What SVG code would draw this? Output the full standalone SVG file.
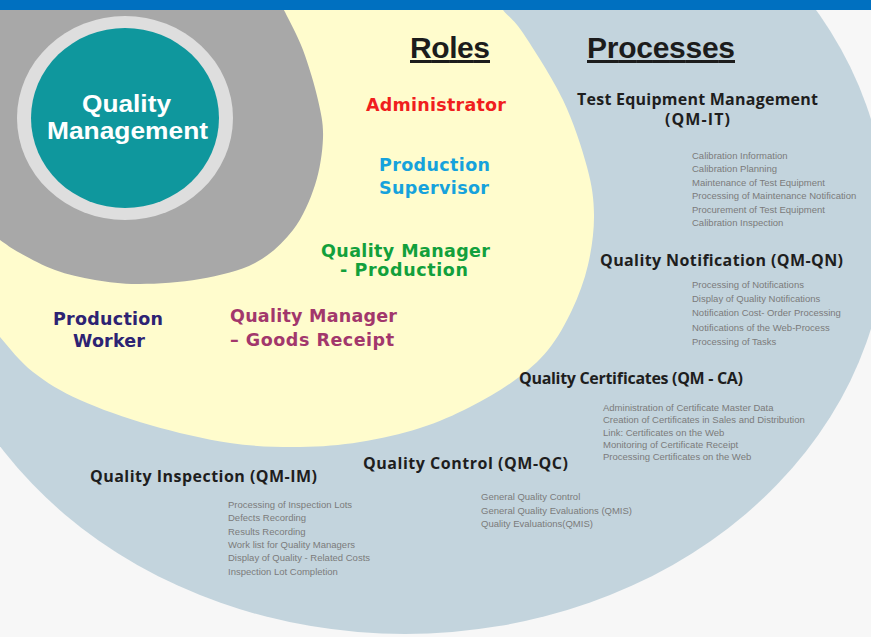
<svg xmlns="http://www.w3.org/2000/svg" width="871" height="637" viewBox="0 0 871 637">
<style>
.hdr{font-family:"Liberation Sans",Arial,sans-serif;font-weight:bold;font-size:30px;fill:#1c1c1c;text-decoration:underline}
.core{font-family:"Liberation Sans",Arial,sans-serif;font-weight:bold;font-size:24.5px;fill:#ffffff}
.role{font-family:"DejaVu Sans",Verdana,sans-serif;font-weight:bold;font-size:17.5px}
.proc{font-family:"Open Sans","Liberation Sans",sans-serif;font-weight:bold;font-size:16px;fill:#1e1e1e}
.item{font-family:"Liberation Sans",Arial,sans-serif;font-size:9.5px;fill:#7b7b7b}
</style>
<rect x="0" y="0" width="871" height="637" fill="#f7f7f7"/>
<g id="processes-ring">
<ellipse cx="405" cy="224" rx="482" ry="410" fill="#c3d4dd"/>
</g>
<g id="roles-ring">
<path fill="#fffccd" d="M -20,-5 L 496,-5 L 503,10 C 507.5,16.3 513,18 523,33 C 533,48 552.3,77.7 563,100 C 573.7,122.3 581.8,147.8 587,167 C 592.2,186.2 593.8,198.7 594,215 C 594.2,231.3 591.7,249.2 588,265 C 584.3,280.8 578.7,295.8 572,310 C 565.3,324.2 557.5,338.3 548,350 C 538.5,361.7 528,370.5 515,380 C 502,389.5 485.8,399 470,407 C 454.2,415 438.3,422.2 420,428 C 401.7,433.8 380,438.8 360,442 C 340,445.2 321.7,446.8 300,447 C 278.3,447.2 255,446.7 230,443 C 205,439.3 175,432.2 150,425 C 125,417.8 99.5,408.8 80,400 C 60.5,391.2 46.3,382.5 33,372 C 19.7,361.5 8.8,347.3 0,337 L -20,310 Z"/>
</g>
<g id="core-ring">
<path fill="#a8a8a8" d="M 276,-5 L 285,12 C 289.5,21.2 297.5,35.3 303,50 C 308.5,64.7 314.7,85.3 318,100 C 321.3,114.7 323.5,123.8 323,138 C 322.5,152.2 320,169.7 315,185 C 310,200.3 303,217 293,230 C 283,243 270.5,254.8 255,263 C 239.5,271.2 219.2,275.5 200,279 C 180.8,282.5 157.5,283.8 140,284 C 122.5,284.2 109.2,282.3 95,280 C 80.8,277.7 67.5,274.5 55,270 C 42.5,265.5 29.2,258 20,253 C 10.8,248 6.7,244.7 0,240 L -20,225 L -20,-5 Z"/>
</g>
<g id="quality-management">
<ellipse cx="125" cy="118" rx="108" ry="102" fill="#dedede"/>
<ellipse cx="125" cy="118" rx="94" ry="90" fill="#0f979d"/>
<text class="core" x="82" y="112" textLength="89" lengthAdjust="spacingAndGlyphs">Quality</text>
<text class="core" x="47" y="139" textLength="161" lengthAdjust="spacingAndGlyphs">Management</text>
</g>
<rect x="0" y="0" width="871" height="10" fill="#0070c0"/>
<g id="headers">
<text class="hdr" x="410" y="58" textLength="80">Roles</text>
<text class="hdr" x="587" y="58" textLength="148">Processes</text>
</g>
<g id="role-administrator"><text class="role" x="366" y="111" textLength="140" fill="#f01e1e">Administrator</text></g>
<g id="role-production-supervisor">
<text class="role" x="379" y="171" textLength="111" fill="#16a2dc">Production</text>
<text class="role" x="379" y="194" textLength="110" fill="#16a2dc">Supervisor</text>
</g>
<g id="role-qm-production">
<text class="role" x="321" y="257" textLength="169" fill="#12a03c">Quality Manager</text>
<text class="role" x="340" y="276" textLength="128" fill="#12a03c">- Production</text>
</g>
<g id="role-qm-goods-receipt">
<text class="role" x="230" y="322" textLength="167" fill="#a2376c">Quality Manager</text>
<text class="role" x="230" y="346" textLength="164" fill="#a2376c">– Goods Receipt</text>
</g>
<g id="role-production-worker">
<text class="role" x="53" y="325" textLength="110" fill="#2d2373">Production</text>
<text class="role" x="73" y="347" textLength="72" fill="#2d2373">Worker</text>
</g>
<g id="proc-qm-it">
<text class="proc" x="577" y="105" textLength="241">Test Equipment Management</text>
<text class="proc" x="665" y="125" textLength="65">(QM-IT)</text>
<text class="item" x="692" y="159">Calibration Information</text>
<text class="item" x="692" y="172">Calibration Planning</text>
<text class="item" x="692" y="186">Maintenance of Test Equipment</text>
<text class="item" x="692" y="199">Processing of Maintenance Notification</text>
<text class="item" x="692" y="213">Procurement of Test Equipment</text>
<text class="item" x="692" y="226">Calibration Inspection</text>
</g>
<g id="proc-qm-qn">
<text class="proc" x="600" y="266" textLength="243">Quality Notification (QM-QN)</text>
<text class="item" x="692" y="288">Processing of Notifications</text>
<text class="item" x="692" y="302">Display of Quality Notifications</text>
<text class="item" x="692" y="316">Notification Cost- Order Processing</text>
<text class="item" x="692" y="331">Notifications of the Web-Process</text>
<text class="item" x="692" y="345">Processing of Tasks</text>
</g>
<g id="proc-qm-ca">
<text class="proc" x="519" y="384" textLength="224">Quality Certificates (QM - CA)</text>
<text class="item" x="603" y="411">Administration of Certificate Master Data</text>
<text class="item" x="603" y="423">Creation of Certificates in Sales and Distribution</text>
<text class="item" x="603" y="436">Link: Certificates on the Web</text>
<text class="item" x="603" y="448">Monitoring of Certificate Receipt</text>
<text class="item" x="603" y="460">Processing Certificates on the Web</text>
</g>
<g id="proc-qm-qc">
<text class="proc" x="363" y="469" textLength="205">Quality Control (QM-QC)</text>
<text class="item" x="481" y="500">General Quality Control</text>
<text class="item" x="481" y="514">General Quality Evaluations (QMIS)</text>
<text class="item" x="481" y="527">Quality Evaluations(QMIS)</text>
</g>
<g id="proc-qm-im">
<text class="proc" x="90" y="482" textLength="227">Quality Inspection (QM-IM)</text>
<text class="item" x="228" y="508">Processing of Inspection Lots</text>
<text class="item" x="228" y="521">Defects Recording</text>
<text class="item" x="228" y="535">Results Recording</text>
<text class="item" x="228" y="548">Work list for Quality Managers</text>
<text class="item" x="228" y="561">Display of Quality - Related Costs</text>
<text class="item" x="228" y="575">Inspection Lot Completion</text>
</g>
<g id="connectors"></g>
</svg>
